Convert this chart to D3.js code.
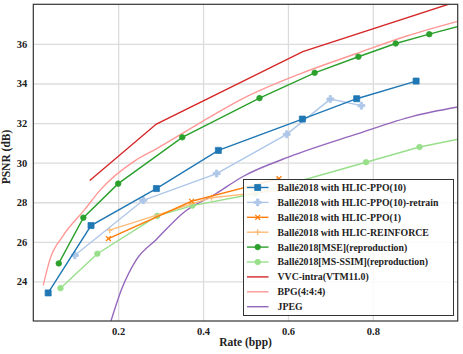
<!DOCTYPE html>
<html>
<head>
<meta charset="utf-8">
<script src="https://cdn.jsdelivr.net/npm/d3@7"></script>
<style>
  body { margin: 0; background: #fff; }
  text { font-family: "Liberation Serif", "Times New Roman", serif; font-weight: bold; fill: #222; }
</style>
</head>
<body>
<div id="chart"></div>
<script>
// rate (bpp) / PSNR (dB)
var ppo10Rate = [0.035, 0.136, 0.290, 0.436, 0.634, 0.762, 0.902];
var ppo10Psnr = [23.42, 26.82, 28.69, 30.62, 32.20, 33.23, 34.12];

var retrainRate = [0.098, 0.259, 0.432, 0.597, 0.700, 0.773];
var retrainPsnr = [25.32, 28.10, 29.45, 31.43, 33.21, 32.88];

var ppo1Rate = [0.177, 0.373, 0.579];
var ppo1Psnr = [26.16, 28.05, 29.19];

var reinforceRate = [0.180, 0.420, 0.600];
var reinforcePsnr = [26.59, 28.23, 28.65];

var mseRate = [0.060, 0.118, 0.200, 0.351, 0.533, 0.663, 0.766, 0.854, 0.933, 1.03];
var msePsnr = [24.91, 27.22, 28.94, 31.28, 33.26, 34.54, 35.35, 36.02, 36.49, 37.05];

var msssimRate = [0.064, 0.151, 0.292, 0.375, 0.524, 0.784, 0.910, 1.05];
var msssimPsnr = [23.66, 25.40, 27.31, 27.83, 28.44, 30.02, 30.79, 31.40];

var vvcRate = [0.133, 0.290, 0.635, 1.05];
var vvcPsnr = [29.10, 31.95, 35.61, 38.50];

var bpgRate = [0.0235, 0.039, 0.070, 0.120, 0.157, 0.240, 0.290, 0.400, 0.490, 0.630, 0.760, 0.880, 1.0];
var bpgPsnr = [23.80, 25.10, 26.30, 27.60, 28.60, 30.10, 30.70, 32.10, 33.20, 34.50, 35.50, 36.40, 37.14];

var jpegRate = [0.183, 0.208, 0.243, 0.290, 0.353, 0.431, 0.494, 0.604, 0.763, 0.894, 1.0];
var jpegPsnr = [22.00, 23.60, 25.10, 26.12, 27.46, 28.44, 29.30, 30.30, 31.45, 32.34, 32.81];

var xTicks = [0.2, 0.4, 0.6, 0.8];
var yTicks = [24, 26, 28, 30, 32, 34, 36];

function pts(r, p) { return r.map(function(v, i) { return {x: v, y: p[i]}; }); }

// draw order + legend order
var series = [
  {name: "Ballé2018 with HLIC-PPO(10)", color: "#1f77b4", data: pts(ppo10Rate, ppo10Psnr), marker: "square", curve: "linear"},
  {name: "Ballé2018 with HLIC-PPO(10)-retrain", color: "#aec7e8", data: pts(retrainRate, retrainPsnr), marker: "cross", curve: "linear"},
  {name: "Ballé2018 with HLIC-PPO(1)", color: "#ff7f0e", data: pts(ppo1Rate, ppo1Psnr), marker: "x", curve: "linear"},
  {name: "Ballé2018 with HLIC-REINFORCE", color: "#ffbb78", data: pts(reinforceRate, reinforcePsnr), marker: "plus", curve: "linear"},
  {name: "Ballé2018[MSE](reproduction)", color: "#2ca02c", data: pts(mseRate, msePsnr), marker: "circle", curve: "linear"},
  {name: "Ballé2018[MS-SSIM](reproduction)", color: "#98df8a", data: pts(msssimRate, msssimPsnr), marker: "circle", curve: "linear"},
  {name: "VVC-intra(VTM11.0)", color: "#d62728", data: pts(vvcRate, vvcPsnr), marker: null, curve: "linear"},
  {name: "BPG(4:4:4)", color: "#ff9896", data: pts(bpgRate, bpgPsnr), marker: null, curve: "smooth"},
  {name: "JPEG", color: "#9467bd", data: pts(jpegRate, jpegPsnr), marker: null, curve: "smooth"}
];

var W = 463, H = 354;
var margin = {top: 4.3, right: 5.3, bottom: 33, left: 33.3},
    width = W - margin.left - margin.right,
    height = H - margin.top - margin.bottom;

var svg = d3.select("#chart").append("svg")
    .attr("width", W)
    .attr("height", H);

var g = svg.append("g")
    .attr("transform", "translate(" + margin.left + "," + margin.top + ")");

var x = d3.scaleLinear().domain([0, 1]).range([0, width]);
var y = d3.scaleLinear().domain([22, 38]).range([height, 0]);

svg.append("defs").append("clipPath").attr("id", "plotclip")
  .append("rect").attr("width", width).attr("height", height);

// grid
g.append("g")
    .attr("transform", "translate(0," + height + ")")
    .call(d3.axisBottom(x).tickValues(xTicks).tickSize(-height).tickFormat(""))
    .call(function(a) { a.select(".domain").remove(); a.selectAll("line").attr("stroke", "#dcdcdc").attr("stroke-width", 1.3); });
g.append("g")
    .call(d3.axisLeft(y).tickValues(yTicks).tickSize(-width).tickFormat(""))
    .call(function(a) { a.select(".domain").remove(); a.selectAll("line").attr("stroke", "#dcdcdc").attr("stroke-width", 1.3); });

// tick labels
g.append("g")
    .attr("transform", "translate(0," + height + ")")
    .call(d3.axisBottom(x).tickValues(xTicks).tickSize(0).tickPadding(7).tickFormat(d3.format(".1f")))
    .call(function(a) { a.select(".domain").remove(); a.selectAll("text").style("font-size", "10.5px").attr("fill", "#222"); });
g.append("g")
    .call(d3.axisLeft(y).tickValues(yTicks).tickSize(0).tickPadding(6).tickFormat(d3.format("d")))
    .call(function(a) { a.select(".domain").remove(); a.selectAll("text").style("font-size", "10.5px").attr("fill", "#222"); });

function markerPath(type, size) {
  if (type === "square") return d3.symbol(d3.symbolSquare, size * size)();
  if (type === "circle") return d3.symbol(d3.symbolCircle, size * size * 0.8)();
  if (type === "cross") return d3.symbol(d3.symbolCross, size * size)();
  if (type === "plus") { var s = size / 2; return "M" + -s + ",0H" + s + "M0," + -s + "V" + s; }
  if (type === "x") { var t = size / 2 * 0.8; return "M" + -t + "," + -t + "L" + t + "," + t + "M" + -t + "," + t + "L" + t + "," + -t; }
  return "";
}
var markerSize = {square: 6, circle: 5.5, cross: 5.2, plus: 6, x: 6};

function drawMarker(sel, s) {
  var filled = (s.marker === "square" || s.marker === "circle" || s.marker === "cross");
  sel.attr("d", markerPath(s.marker, markerSize[s.marker]))
    .attr("fill", filled ? s.color : "none")
    .attr("stroke", s.color)
    .attr("stroke-width", filled ? 0.8 : 1.3)
    .attr("stroke-linejoin", "round");
}

var plot = g.append("g").attr("clip-path", "url(#plotclip)");

var drawOrder = [8, 7, 6, 5, 4, 3, 2, 1, 0];
drawOrder.forEach(function(i) {
  var s = series[i];
  var line = d3.line()
      .x(function(d) { return x(d.x); })
      .y(function(d) { return y(d.y); })
      .curve(s.curve === "smooth" ? d3.curveMonotoneX : d3.curveLinear);
  var sg = plot.append("g");
  sg.append("path")
      .datum(s.data)
      .attr("fill", "none")
      .attr("stroke", s.color)
      .attr("stroke-width", 1.4)
      .attr("d", line);
  if (s.marker) {
    sg.selectAll(".m")
      .data(s.data)
      .enter().append("path")
        .attr("class", "m")
        .attr("transform", function(d) { return "translate(" + x(d.x) + "," + y(d.y) + ")"; })
        .each(function() { drawMarker(d3.select(this), s); });
  }
});

// frame
g.append("rect")
    .attr("width", width).attr("height", height)
    .attr("fill", "none").attr("stroke", "#333").attr("stroke-width", 1.2);

// axis titles
svg.append("text")
    .attr("x", margin.left + width / 2)
    .attr("y", 346)
    .attr("text-anchor", "middle")
    .style("font-size", "11.5px")
    .text("Rate (bpp)");

svg.append("text")
    .attr("transform", "translate(10,157) rotate(-90)")
    .attr("text-anchor", "middle")
    .style("font-size", "11.5px")
    .text("PSNR (dB)");

// legend
var lg = svg.append("g").attr("transform", "translate(243.5,179.5)");
lg.append("rect")
    .attr("width", 210).attr("height", 136)
    .attr("fill", "#fff").attr("fill-opacity", 0.85)
    .attr("stroke", "#333").attr("stroke-width", 1);

var row = lg.selectAll(".legend")
    .data(series)
  .enter().append("g")
    .attr("class", "legend")
    .attr("transform", function(d, i) { return "translate(0," + (8 + i * 14.9) + ")"; });

row.append("line")
    .attr("x1", 3.5).attr("x2", 25)
    .attr("stroke", function(d) { return d.color; })
    .attr("stroke-width", 1.4);

row.filter(function(d) { return d.marker; }).append("path")
    .attr("transform", "translate(14.2,0)")
    .each(function(d) { drawMarker(d3.select(this), d); });

row.append("text")
    .attr("x", 34)
    .attr("dy", "0.35em")
    .style("font-size", "9.8px")
    .text(function(d) { return d.name; });
</script>
</body>
</html>
